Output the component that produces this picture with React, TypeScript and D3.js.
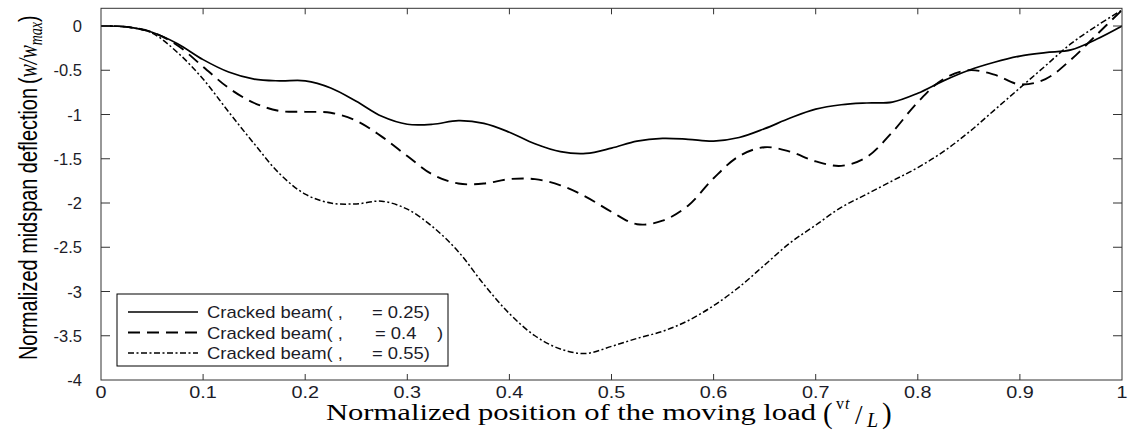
import React from "react";
import * as d3 from "d3";

const positions = [
  0, 0.025, 0.05, 0.075, 0.1, 0.125, 0.15, 0.175, 0.2, 0.225, 0.25, 0.275, 0.3, 0.325, 0.35, 0.375, 0.4,
  0.425, 0.45, 0.475, 0.5, 0.525, 0.55, 0.575, 0.6, 0.625, 0.65, 0.675, 0.7, 0.725, 0.75, 0.775, 0.8,
  0.825, 0.85, 0.875, 0.9, 0.925, 0.95, 0.975, 1.0,
];

const beam025 = [
  0, -0.01, -0.07, -0.2, -0.38, -0.52, -0.6, -0.62, -0.62, -0.7, -0.85, -1.02, -1.11, -1.11, -1.07, -1.1, -1.2,
  -1.33, -1.42, -1.44, -1.38, -1.3, -1.27, -1.28, -1.3, -1.26, -1.16, -1.04, -0.94, -0.89, -0.87, -0.86, -0.76,
  -0.62, -0.5, -0.41, -0.34, -0.3, -0.27, -0.15, 0.0,
];

const beam04 = [
  0, -0.01, -0.07, -0.22, -0.46, -0.7, -0.87, -0.96, -0.97, -0.98, -1.07, -1.25, -1.47, -1.68, -1.78, -1.78, -1.73,
  -1.73, -1.8, -1.93, -2.1, -2.24, -2.2, -2.03, -1.72, -1.47, -1.37, -1.42, -1.53, -1.58, -1.48, -1.2, -0.86,
  -0.6, -0.5, -0.55, -0.66, -0.6, -0.38, -0.1, 0.18,
];

const beam055 = [
  0, -0.01, -0.08, -0.3, -0.6, -0.97, -1.33, -1.67, -1.9, -2.0, -2.01, -1.98, -2.07, -2.27, -2.55, -2.92, -3.25,
  -3.5, -3.65, -3.7, -3.62, -3.53, -3.45, -3.33, -3.16, -2.95, -2.7, -2.45, -2.25, -2.05, -1.9, -1.75, -1.6,
  -1.42, -1.2, -0.95, -0.7, -0.45, -0.2, 0.0, 0.18,
];

const xTickValues = [0, 0.1, 0.2, 0.3, 0.4, 0.5, 0.6, 0.7, 0.8, 0.9, 1];
const xTickLabels = ["0", "0.1", "0.2", "0.3", "0.4", "0.5", "0.6", "0.7", "0.8", "0.9", "1"];
const yTickValues = [0, -0.5, -1, -1.5, -2, -2.5, -3, -3.5, -4];
const yTickLabels = ["0", "-0.5", "-1", "-1.5", "-2", "-2.5", "-3", "-3.5", "-4"];

const legendLabels = ["Cracked beam( ,", "Cracked beam( ,", "Cracked beam( ,"];
const legendValues = ["= 0.25)", "= 0.4", "= 0.55)"];

const SANS = "'Liberation Sans', Arial, sans-serif";
const SERIF = "'Liberation Serif', 'Times New Roman', serif";

export default function App() {
  const W = 1129;
  const H = 434;
  const left = 101;
  const right = 1122;
  const top = 8.3;
  const bottom = 380;

  const x = d3.scaleLinear().domain([0, 1]).range([left, right]);
  const y = d3.scaleLinear().domain([-4, 0.2]).range([bottom, top]);

  const line = d3
    .line<[number, number]>()
    .x((d) => x(d[0]))
    .y((d) => y(d[1]))
    .curve(d3.curveCatmullRom.alpha(0.5));

  const series = [
    { data: beam025, dash: "none", width: 1.7 },
    { data: beam04, dash: "12,7", width: 1.9 },
    { data: beam055, dash: "6,2.5,2,2.5", width: 1.5 },
  ];

  const tickColor = "#1c1c28";

  return (
    <svg
      width={W}
      height={H}
      style={{ position: "absolute", left: 0, top: 0, background: "#fff" }}
    >
      <rect x={0} y={0} width={W} height={H} fill="#fff" />
      <defs>
        <clipPath id="plot">
          <rect x={left} y={top} width={right - left} height={bottom - top} />
        </clipPath>
      </defs>

      {/* curves */}
      <g clipPath="url(#plot)">
        {series.map((s, i) => (
          <path
            key={i}
            d={line(positions.map((p, j) => [p, s.data[j]] as [number, number])) || ""}
            fill="none"
            stroke="#000"
            strokeWidth={s.width}
            strokeDasharray={s.dash}
          />
        ))}
      </g>

      {/* axes box */}
      <rect
        x={left}
        y={top}
        width={right - left}
        height={bottom - top}
        fill="none"
        stroke="#333"
        strokeWidth={1}
      />

      {/* x ticks */}
      {xTickValues.map((v, i) => (
        <g key={"xt" + i}>
          {i > 0 && i < xTickValues.length - 1 && (
            <>
              <line x1={x(v)} x2={x(v)} y1={bottom} y2={bottom - 6} stroke="#333" />
              <line x1={x(v)} x2={x(v)} y1={top} y2={top + 6} stroke="#333" />
            </>
          )}
          <text
            transform={`translate(${x(v)},398) scale(1.2,1)`}
            textAnchor="middle"
            fontFamily={SANS}
            fontSize={16.5}
            fill={tickColor}
          >
            {xTickLabels[i]}
          </text>
        </g>
      ))}

      {/* y ticks */}
      {yTickValues.map((v, i) => (
        <g key={"yt" + i}>
          {i < yTickValues.length - 1 && (
            <>
              <line x1={left} x2={left + 9} y1={y(v)} y2={y(v)} stroke="#333" />
              <line x1={right} x2={right - 9} y1={y(v)} y2={y(v)} stroke="#333" />
            </>
          )}
          <text
            x={82}
            y={y(v) + 6}
            textAnchor="end"
            fontFamily={SANS}
            fontSize={16.5}
            fill={tickColor}
          >
            {yTickLabels[i]}
          </text>
        </g>
      ))}

      {/* y axis label */}
      <g transform="translate(37,360) rotate(-90) scale(1,1.35)">
        <text x={0} y={0} fontFamily={SANS} fontSize={19.5} fill="#000" textLength={272} lengthAdjust="spacingAndGlyphs">
          Normalized midspan deflection
        </text>
        <text x={276} y={0} fontFamily={SANS} fontSize={19.5} fill="#000">
          (
          <tspan fontFamily={SERIF} fontStyle="italic" fontSize={20}>w/w</tspan>
          <tspan fontFamily={SERIF} fontStyle="italic" fontSize={14} dy={4}>max</tspan>
          <tspan dy={-4}>)</tspan>
        </text>
      </g>

      {/* x axis label */}
      <text
        x={326}
        y={420}
        fontFamily={SERIF}
        fontSize={22.5}
        fill="#000"
        textLength={490}
        lengthAdjust="spacingAndGlyphs"
      >
        Normalized position of the moving load
      </text>
      <text x={823} y={423} fontFamily={SERIF} fontSize={29} fill="#000">(</text>
      <text x={836} y={409} fontFamily={SERIF} fontSize={16} fill="#000">v</text>
      <text x={845} y={409} fontFamily={SERIF} fontSize={16} fontStyle="italic" fill="#000">t</text>
      <text x={855} y={424} fontFamily={SERIF} fontSize={27} fill="#000">/</text>
      <text x={867} y={427} fontFamily={SERIF} fontSize={20} fontStyle="italic" fill="#000">L</text>
      <text x={882} y={423} fontFamily={SERIF} fontSize={29} fill="#000">)</text>

      {/* legend */}
      <rect x={117} y={294} width={331} height={72} fill="#fff" stroke="#000" strokeWidth={1} />
      {series.map((s, i) => {
        const cy = 312 + i * 20.5;
        return (
          <g key={"lg" + i}>
            <line
              x1={128}
              x2={198}
              y1={cy}
              y2={cy}
              stroke="#000"
              strokeWidth={s.width}
              strokeDasharray={s.dash}
            />
            <text
              transform={`translate(207,${cy + 6}) scale(1.15,1)`}
              fontFamily={SANS}
              fontSize={16}
              fill={tickColor}
            >
              {legendLabels[i]}
            </text>
            <text
              transform={`translate(${i === 1 ? 375 : 372},${cy + 6}) scale(1.15,1)`}
              fontFamily={SANS}
              fontSize={16}
              fill={tickColor}
            >
              {legendValues[i]}
            </text>
            {i === 1 && (
              <text
                transform={`translate(437,${cy + 6}) scale(1.15,1)`}
                fontFamily={SANS}
                fontSize={16}
                fill={tickColor}
              >
                )
              </text>
            )}
          </g>
        );
      })}
    </svg>
  );
}
